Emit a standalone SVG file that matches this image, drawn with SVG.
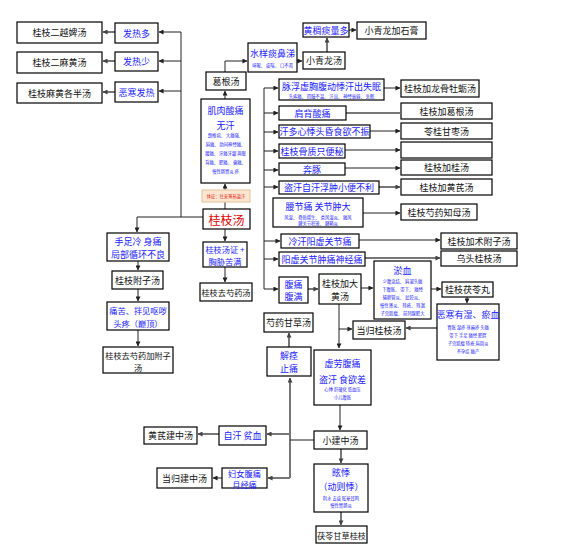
<svg xmlns="http://www.w3.org/2000/svg" width="571" height="552" viewBox="0 0 571 552">
<defs>
<marker id="a" viewBox="0 0 6 6" refX="5.5" refY="3" markerWidth="5" markerHeight="5" markerUnits="userSpaceOnUse" orient="auto"><path d="M0,0 L6,3 L0,6 z" fill="#222"/></marker>
<marker id="ag" viewBox="0 0 6 6" refX="5.5" refY="3" markerWidth="5" markerHeight="5" markerUnits="userSpaceOnUse" orient="auto"><path d="M0,0 L6,3 L0,6 z" fill="#444"/></marker>
</defs>
<style>
rect{fill:#fff;stroke:#000;stroke-width:1.2}
text{font-family:"Noto Sans CJK SC","Noto Sans",sans-serif;text-anchor:middle;dominant-baseline:central}
.k{font-size:9px;fill:#111}
.u{font-size:9px;fill:#1a1aff}
.r{font-size:12px;fill:#e00000}
.s{font-size:4.3px;fill:#1a1aff}
.f{font-size:8.2px}
.c path{fill:none}
.l{stroke:#222;stroke-width:1;marker-end:url(#a)}
.n{stroke:#222;stroke-width:1}
.g{stroke:#777;stroke-width:2;marker-end:url(#ag)}
.gn{stroke:#777;stroke-width:2}
</style>
<rect x="0" y="0" width="571" height="552" style="fill:#fff;stroke:none"/>
<g class="c" id="connectors">
<path class="n" d="M181,32 V217"/>
<path class="l" d="M181,32 H159"/>
<path class="l" d="M181,61 H159"/>
<path class="l" d="M181,91 H159"/>
<path class="g" d="M115,32 H103"/>
<path class="g" d="M115,61 H103"/>
<path class="g" d="M115,92 H103"/>
<path class="n" d="M203,217 H137"/>
<path class="l" d="M137,217 V232"/>
<path class="l" d="M138,261 V270"/>
<path class="l" d="M138,289 V301"/>
<path class="l" d="M138,330 V346"/>
<path class="l" d="M225,229 V241"/>
<path class="l" d="M225,267 V282"/>
<path class="n" d="M225,209 V202"/>
<path class="l" d="M225,190 V184"/>
<path class="l" d="M225,99 V91"/>
<path class="l" d="M225,72 V61 H247"/>
<path class="l" d="M297,61 H302"/>
<path class="g" d="M327,52 V38"/>
<path class="l" d="M349,30 H356"/>
<path class="n" d="M264,88 V289"/>
<path class="l" d="M264,88 H278"/>
<path class="l" d="M264,113 H278"/>
<path class="l" d="M264,132 H278"/>
<path class="l" d="M264,151 H278"/>
<path class="l" d="M264,170 H278"/>
<path class="l" d="M264,187 H278"/>
<path class="l" d="M264,241 H280"/>
<path class="l" d="M264,259 H278"/>
<path class="l" d="M264,289 H278"/>
<path class="l" d="M384,88 H400"/>
<path class="gn" d="M346,113 H400"/>
<path class="l" d="M370,131 H400"/>
<path class="l" d="M345,150 H400"/>
<path class="l" d="M345,168 H400"/>
<path class="g" d="M379,187 H400"/>
<path class="l" d="M363,213 H400"/>
<path class="l" d="M359,240 H440"/>
<path class="g" d="M365,258 H440"/>
<path class="g" d="M308,289 H318"/>
<path class="l" d="M361,288 H373"/>
<path class="l" d="M431,289 H441"/>
<path class="l" d="M467,297 V303"/>
<path class="g" d="M437,328 H406"/>
<path class="l" d="M339,304 V348"/>
<path class="l" d="M339,329 H352"/>
<path class="g" d="M289,347 V333"/>
<path class="g" d="M290,478 V378"/>
<path class="g" d="M290,434 H267"/>
<path class="g" d="M290,478 H268"/>
<path class="n" d="M290,440 H314"/>
<path class="l" d="M340,405 V430"/>
<path class="g" d="M219,434 H198"/>
<path class="l" d="M222,478 H213"/>
<path class="g" d="M341,449 V463"/>
<path class="g" d="M341,512 V525"/>
</g>
<g id="n1"><rect x="17" y="22" width="85" height="21"/><text class="k" x="59.5" y="32.5">桂枝二越婢汤</text></g>
<g id="n2"><rect x="115" y="23" width="43" height="20"/><text class="u" x="136.5" y="33">发热多</text></g>
<g id="n3"><rect x="17" y="52" width="85" height="21"/><text class="k" x="59.5" y="62.5">桂枝二麻黄汤</text></g>
<g id="n4"><rect x="115" y="52" width="43" height="19"/><text class="u" x="136.5" y="61.5">发热少</text></g>
<g id="n5"><rect x="17" y="83" width="85" height="20"/><text class="k" x="59.5" y="93">桂枝麻黄各半汤</text></g>
<g id="n6"><rect x="115" y="82" width="43" height="20"/><text class="u" x="136.5" y="92">恶寒发热</text></g>
<g id="n7"><rect x="203" y="209" width="47" height="20"/><text class="r" x="226.5" y="219">桂枝汤</text></g>
<g id="n8"><rect x="202" y="190" width="48" height="12" style="fill:#fde6cf;stroke:#e8c8a8"/><text class="s" x="226" y="196" style="fill:#e02020">体征：往来寒热盗汗</text></g>
<g id="n9"><rect x="201" y="99" width="49" height="84"/><text class="u" x="225.5" y="110">肌肉酸痛</text><text class="u" x="225.5" y="125">无汗</text>
<text class="s" x="225.5" y="135">颈椎病、 大痛强、</text><text class="s" x="225.5" y="144">肩痛、 肋间神经痛、</text><text class="s" x="225.5" y="153">腰痛、 牙痛牙龈 两眼</text><text class="s" x="225.5" y="162">背痛、 肥痛、 偏痛、</text><text class="s" x="225.5" y="171">慢性肠胃炎 疹</text></g>
<g id="n10"><rect x="206" y="72" width="40" height="18"/><text class="k" x="226" y="81">葛根汤</text></g>
<g id="n11"><rect x="248" y="43" width="49" height="29"/><text class="u" x="272.5" y="53">水样痰鼻涕</text><text class="s" x="272.5" y="65">咳嗽、 痰喘、 口不渴</text></g>
<g id="n12"><rect x="303" y="52" width="42" height="17"/><text class="k" x="324" y="60.5">小青龙汤</text></g>
<g id="n13"><rect x="303" y="23" width="46" height="14"/><text class="u" x="326" y="30">黄稠痰量多</text></g>
<g id="n14"><rect x="357" y="22" width="69" height="17"/><text class="k" x="391.5" y="30.5">小青龙加石膏</text></g>
<g id="n15"><rect x="279" y="79" width="105" height="21"/><text class="u" x="331.5" y="86">脉浮虚胸腹动悸汗出失眠</text><text class="s" x="331.5" y="96">头疼痛、 四肢不温、 汗出、 神经衰弱、 失眠</text></g>
<g id="n16"><rect x="401" y="80" width="78" height="17"/><text class="k" x="440" y="88.5">桂枝加龙骨牡蛎汤</text></g>
<g id="n17"><rect x="279" y="106" width="67" height="14"/><text class="u" x="312.5" y="113">肩背酸痛</text></g>
<g id="n18"><rect x="401" y="103" width="91" height="16"/><text class="k" x="446.5" y="111">桂枝加葛根汤</text></g>
<g id="n19"><rect x="279" y="125" width="91" height="13"/><text class="u" x="324.5" y="131.5">汗多心悸头昏食欲不振</text></g>
<g id="n20"><rect x="401" y="123" width="91" height="16"/><text class="k" x="446.5" y="131">苓桂甘枣汤</text></g>
<g id="n21"><rect x="279" y="144" width="66" height="14"/><text class="u" x="312" y="151">桂枝骨质只便秘</text></g>
<g id="n22"><rect x="401" y="142" width="91" height="16"/></g>
<g id="n23"><rect x="279" y="163" width="66" height="12"/><text class="u" x="312" y="169">奔豚</text></g>
<g id="n24"><rect x="401" y="160" width="91" height="15"/><text class="k" x="446.5" y="167.5">桂枝加桂汤</text></g>
<g id="n25"><rect x="279" y="181" width="100" height="13"/><text class="u" x="329" y="187.5">盗汗自汗浮肿小便不利</text></g>
<g id="n26"><rect x="401" y="179" width="91" height="16"/><text class="k" x="446.5" y="187">桂枝加黄芪汤</text></g>
<g id="n27"><rect x="273" y="198" width="90" height="29"/><text class="u" x="318" y="206">腰节痛 关节肿大</text><text class="s" x="318" y="217">风湿、 骨质增生、 类风湿炎、 痛风</text><text class="s" x="318" y="223">腱关节积液、 腱鞘炎</text></g>
<g id="n28"><rect x="401" y="204" width="76" height="16"/><text class="k" x="439" y="212">桂枝芍药知母汤</text></g>
<g id="n29"><rect x="281" y="234" width="78" height="14"/><text class="u" x="320" y="241">冷汗阳虚关节痛</text></g>
<g id="n30"><rect x="441" y="233" width="76" height="16"/><text class="k" x="479" y="241">桂枝加术附子汤</text></g>
<g id="n31"><rect x="279" y="252" width="86" height="14"/><text class="u" x="322" y="259">阳虚关节肿痛神经痛</text></g>
<g id="n32"><rect x="441" y="251" width="76" height="15"/><text class="k" x="479" y="258.5">乌头桂枝汤</text></g>
<g id="n33"><rect x="279" y="277" width="29" height="26"/><text class="u" x="293.5" y="284">腹痛</text><text class="u" x="293.5" y="296">腹满</text></g>
<g id="n34"><rect x="319" y="274" width="42" height="30"/><text class="k" x="340" y="283">桂枝加大</text><text class="k" x="340" y="296">黄汤</text></g>
<g id="n35"><rect x="374" y="261" width="57" height="58"/><text class="u" x="402.5" y="270">淤血</text>
<text class="s" x="402.5" y="281">少腹急结、 肩凝头痛</text><text class="s" x="402.5" y="289">下腹胀、 带下、 痛经</text><text class="s" x="402.5" y="297">输卵管炎、 盆腔炎、</text><text class="s" x="402.5" y="305">慢性肾炎、 痔疮、 痔漏</text><text class="s" x="402.5" y="313">子宫肌瘤、 前列腺肥大</text></g>
<g id="n36"><rect x="442" y="282" width="51" height="15"/><text class="k" x="467.5" y="289.5">桂枝茯苓丸</text></g>
<g id="n37"><rect x="437" y="304" width="62" height="56"/><text class="u" x="468" y="314">恶寒有湿、瘀血</text>
<text class="s" x="468" y="327">胃胀 湿疹 荨麻疹 头痛</text><text class="s" x="468" y="335">带下 手足 痛经 肥胖</text><text class="s" x="468" y="343">子宫肌瘤 痔疮 肩周炎</text><text class="s" x="468" y="351">不孕症 痛产</text></g>
<g id="n38"><rect x="353" y="321" width="52" height="18"/><text class="k" x="379" y="330">当归桂枝汤</text></g>
<g id="n39"><rect x="314" y="350" width="57" height="55"/><text class="u" x="342.5" y="363">虚劳腹痛</text><text class="u" x="342.5" y="379">盗汗 食欲差</text><text class="s" x="342.5" y="389">心悸 肝硬化 低血压</text><text class="s" x="342.5" y="397">小儿腹胀</text></g>
<g id="n40"><rect x="264" y="313" width="49" height="19"/><text class="k" x="288.5" y="322.5">芍药甘草汤</text></g>
<g id="n41"><rect x="267" y="347" width="44" height="29"/><text class="u" x="289" y="355">解痉</text><text class="u" x="289" y="368">止痛</text></g>
<g id="n42"><rect x="107" y="233" width="62" height="28"/><text class="u" x="138" y="241">手足冷 身痛</text><text class="u" x="138" y="254">局部循环不良</text></g>
<g id="n43"><rect x="112" y="271" width="51" height="18"/><text class="k" x="137.5" y="280">桂枝附子汤</text></g>
<g id="n44"><rect x="107" y="302" width="62" height="28"/><text class="u f" x="138" y="310">痛苦、拌见呕哕</text><text class="u f" x="138" y="323">头疼（巅顶）</text></g>
<g id="n45"><rect x="103" y="347" width="70" height="26"/><text class="k f" x="138" y="355">桂枝去芍药加附子</text><text class="k f" x="138" y="367">汤</text></g>
<g id="n46"><rect x="203" y="242" width="44" height="25"/><text class="u f" x="225" y="249">桂枝汤证 +</text><text class="u f" x="225" y="261">胸胁苦满</text></g>
<g id="n47"><rect x="200" y="283" width="52" height="18"/><text class="k f" x="226" y="292">桂枝去芍药汤</text></g>
<g id="n48"><rect x="314" y="431" width="53" height="18"/><text class="k" x="340.5" y="440">小建中汤</text></g>
<g id="n49"><rect x="219" y="426" width="47" height="19"/><text class="u" x="242.5" y="435.5">自汗 贫血</text></g>
<g id="n50"><rect x="144" y="427" width="53" height="17"/><text class="k" x="170.5" y="435.5">黄芪建中汤</text></g>
<g id="n51"><rect x="222" y="468" width="45" height="20"/><text class="u f" x="244.5" y="473">妇女腹痛</text><text class="u f" x="244.5" y="483.5">月经痛</text></g>
<g id="n52"><rect x="157" y="468" width="55" height="20"/><text class="k" x="184.5" y="478">当归建中汤</text></g>
<g id="n53"><rect x="314" y="464" width="54" height="48"/><text class="u" x="341" y="472">眩悸</text><text class="u" x="341" y="486">（动则悸）</text><text class="s" x="341" y="498">利水 去痰 眩晕耳鸣</text><text class="s" x="341" y="505">慢性胃肠炎</text></g>
<g id="n54"><rect x="316" y="526" width="51" height="17"/><text class="k f" x="341.5" y="534.5">茯苓甘草桂枝</text></g>
</svg>
